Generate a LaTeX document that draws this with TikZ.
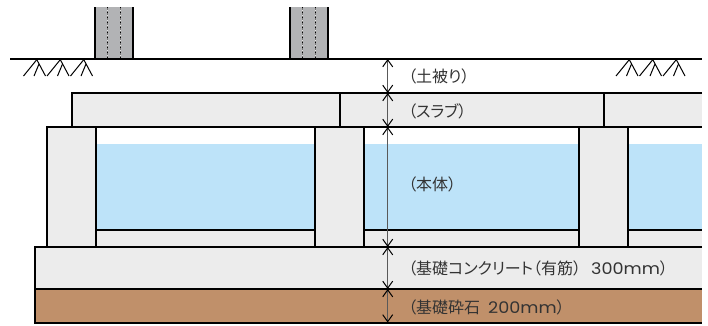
\documentclass[tikz,border=0pt]{standalone}
\usepackage{fontspec}
\usetikzlibrary{arrows.meta}
\setmainfont[RawFeature=+palt]{Noto Sans CJK JP}
\newfontfamily\latinfont[FakeStretch=1.1]{Poppins}
\definecolor{concrete}{HTML}{ECECEC}
\definecolor{water}{HTML}{BDE3F9}
\definecolor{gravel}{HTML}{C0906A}
\definecolor{pillar}{HTML}{B2B3B5}
\definecolor{labeltext}{HTML}{333333}
\tikzset{
  ln/.style={draw=black,line width=1.4bp},
  dim/.style={draw=black!65,line width=1bp,{Straight Barb[length=7bp,width=10bp,black]}-{Straight Barb[length=7bp,width=10bp,black]}},
  lab/.style={anchor=west,inner sep=0pt,text=labeltext,font=\fontsize{16bp}{16bp}\selectfont},
  hatchline/.style={draw=black,line width=1bp},
  pic pillar/.pic={
    \fill[pillar] (0,0) rectangle (38,52);
    \draw[black,line width=2.2bp] (0,0) -- (0,52) (38,0) -- (38,52);
    \draw[black!55,line width=1bp] (12.7,0) -- (12.7,52) (25.5,0) -- (25.5,52);
    \draw[black,line width=1bp,dash pattern=on 1bp off 4bp] (12.7,0) -- (12.7,52) (25.5,0) -- (25.5,52);
    \draw[white!80!gray,line width=1bp,dash pattern=on 1bp off 4bp,dash phase=2.5bp] (12.7,0) -- (12.7,52) (25.5,0) -- (25.5,52);
  },
  pic hatch/.pic={
    \foreach \i in {0,23.5,47}{
      \draw[hatchline] (\i,16) -- (\i+13,0);
      \draw[hatchline] (\i+13.5,0) -- (\i+22,16);
      \draw[hatchline] (\i+10.5,16) -- (\i+15.5,4);
    }
  }
}
\begin{document}
\begin{tikzpicture}[x=1bp,y=-1bp]
\useasboundingbox (0,0) rectangle (708,325);
\fill[white] (0,0) rectangle (708,325);
% pillars
\pic at (95,7) {pic pillar};
\pic at (290,7) {pic pillar};
% ground
\coordinate (g0) at (10,59);
\coordinate (g1) at (702,59);
\draw[ln] (g0) -- (g1);
\pic at (23.5,60) {pic hatch};
\pic at (616,60) {pic hatch};
% slab
\fill[concrete] (72,93) rectangle (702,127);
\draw[ln] (702,93) -- (72,93) -- (72,127);
\draw[ln] (340,93) -- (340,128.5);
\draw[ln] (604,93) -- (604,128.5);
% body
\fill[concrete] (47,127) rectangle (702,247);
\fill[white] (96,127) rectangle (315,230);
\fill[white] (364,127) rectangle (579,230);
\fill[white] (628,127) rectangle (702,230);
\fill[water] (96,144) rectangle (315,230);
\fill[water] (364,144) rectangle (579,230);
\fill[water] (628,144) rectangle (702,230);
\draw[ln] (47,247) -- (47,127) -- (702,127);
\foreach \x in {96,315,364,579,628}{\draw[ln] (\x,127) -- (\x,247);}
\draw[ln] (96,230) -- (315,230);
\draw[ln] (364,230) -- (579,230);
\draw[ln] (628,230) -- (702,230);
% footing and gravel
\fill[concrete] (35,247) rectangle (702,289);
\fill[gravel] (35,289) rectangle (702,323);
\draw[ln] (702,247) -- (35,247) -- (35,323) -- (702,323);
\draw[ln] (35,289) -- (702,289);
% dimensions
\coordinate (d0) at (387.7,59);
\coordinate (d1) at (387.7,93);
\coordinate (d2) at (387.7,127);
\coordinate (d3) at (387.7,247);
\coordinate (d4) at (387.7,289);
\coordinate (d5) at (387.7,322.5);
\draw[dim] (d0) -- (d1);
\draw[dim] (d1) -- (d2);
\draw[dim] (d2) -- (d3);
\draw[dim] (d3) -- (d4);
\draw[dim] (d4) -- (d5);
% labels
\node[lab] (l1) at (408,76.5) {（土被り）};
\node[lab] (l2) at (408,111) {（スラブ）};
\node[lab] (l3) at (408,184.5) {（本体）};
\node[lab] (l4) at (408,268.5) {（基礎コンクリート（有筋）\hspace{10bp}{\latinfont 300mm}）};
\node[lab] (l5) at (408,307) {（基礎砕石\hspace{8bp}{\latinfont 200mm}）};
\end{tikzpicture}
\end{document}
